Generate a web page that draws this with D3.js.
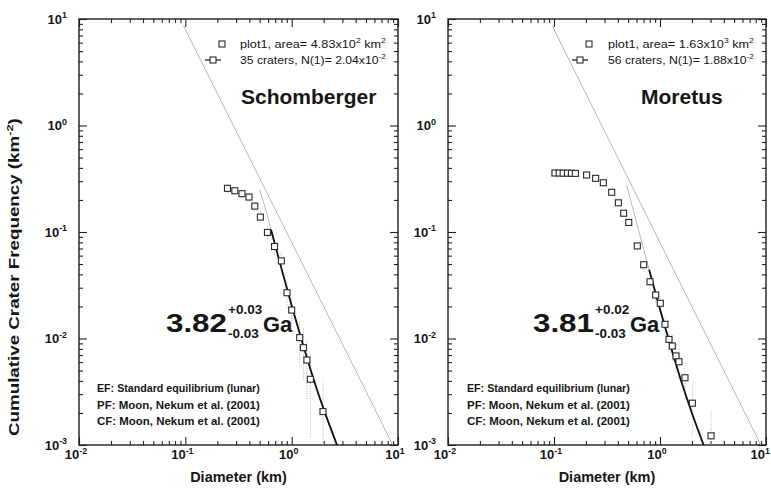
<!DOCTYPE html>
<html>
<head>
<meta charset="utf-8">
<script src="https://cdn.jsdelivr.net/npm/d3@7"></script>
<style>
  body { margin: 0; background: #fff; }
  svg { display: block; }
  text { font-family: "Liberation Sans", Arial, Helvetica, sans-serif; fill: #161616; }
</style>
</head>
<body>
<svg id="chart" width="771" height="493"></svg>
<script>
// ---- data ----
const xTickValues = [0.01, 0.1, 1, 10];
const xTickExp = ["-2", "-1", "0", "1"];
const yTickValues = [0.001, 0.01, 0.1, 1, 10];
const yTickExp = ["-3", "-2", "-1", "0", "1"];

// standard equilibrium line (same in both panels)
const equilibriumDiam = [0.096, 8.93];
const equilibriumFreq = [8.65, 0.001];

// Schomberger
const schombergerDiam = [0.249, 0.292, 0.341, 0.397, 0.45, 0.508, 0.592, 0.69, 0.80, 0.904, 1.0, 1.19, 1.29, 1.39, 1.50, 1.97];
const schombergerFreq = [0.257, 0.244, 0.229, 0.213, 0.175, 0.138, 0.099, 0.073, 0.0535, 0.0269, 0.0185, 0.0102, 0.0082, 0.00628, 0.00414, 0.00206];
const schombergerErrLo = [0.234, 0.2215, 0.207, 0.192, 0.156, 0.121, 0.085, 0.061, 0.043, 0.0194, 0.0123, 0.0056, 0.0041, 0.0027, 0.0012, 0.001];
const schombergerErrHi = [0.280, 0.2665, 0.251, 0.234, 0.194, 0.155, 0.113, 0.085, 0.064, 0.0344, 0.0247, 0.0148, 0.0123, 0.0099, 0.0071, 0.0041];
const schombergerFitDiam = [0.64, 0.8, 0.9, 1.0, 1.25, 1.5, 1.75, 2.0, 2.67];
const schombergerFitFreq = [0.105, 0.0458, 0.0298, 0.0204, 0.0094, 0.00516, 0.0032, 0.00217, 0.001];
const schombergerPfDiam = [0.5, 0.56, 0.64, 0.8, 1.0, 1.5, 2.0, 2.67];
const schombergerPfFreq = [0.249, 0.173, 0.105, 0.0458, 0.0204, 0.00516, 0.00217, 0.001];

// Moretus
const moretusDiam = [0.102, 0.112, 0.122, 0.134, 0.146, 0.159, 0.203, 0.247, 0.292, 0.350, 0.405, 0.454, 0.507, 0.611, 0.702, 0.805, 0.910, 1.007, 1.114, 1.216, 1.306, 1.416, 1.51, 1.72, 2.02, 3.03];
const moretusFreq = [0.358, 0.358, 0.357, 0.357, 0.356, 0.355, 0.343, 0.319, 0.290, 0.236, 0.188, 0.150, 0.123, 0.074, 0.0493, 0.0341, 0.0256, 0.0214, 0.0136, 0.0098, 0.0085, 0.00686, 0.00605, 0.00428, 0.00247, 0.00122];
const moretusErrLo = [0.343, 0.343, 0.342, 0.342, 0.341, 0.340, 0.329, 0.305, 0.277, 0.224, 0.177, 0.140, 0.114, 0.067, 0.0438, 0.0295, 0.0216, 0.0178, 0.0107, 0.0074, 0.0062, 0.0048, 0.0041, 0.0027, 0.00124, 0.0004];
const moretusErrHi = [0.373, 0.373, 0.372, 0.372, 0.371, 0.370, 0.357, 0.333, 0.303, 0.248, 0.199, 0.160, 0.132, 0.081, 0.0548, 0.0387, 0.0296, 0.0250, 0.0165, 0.0122, 0.0108, 0.0089, 0.0080, 0.0059, 0.0037, 0.0021];
const moretusFitDiam = [0.79, 0.9, 1.0, 1.25, 1.5, 1.75, 2.0, 2.58];
const moretusFitFreq = [0.0442, 0.02746, 0.0188, 0.00867, 0.00475, 0.00295, 0.0020, 0.001];
const moretusPfDiam = [0.485, 0.56, 0.63, 0.79, 1.0, 1.5, 2.0, 2.58];
const moretusPfFreq = [0.273, 0.160, 0.1026, 0.0442, 0.0188, 0.00475, 0.0020, 0.001];

const notes = ["EF: Standard equilibrium (lunar)", "PF: Moon, Nekum et al. (2001)", "CF: Moon, Nekum et al. (2001)"];

const svg = d3.select("#chart");
const width = +svg.attr("width");
const plotTop = 19, plotBottom = 445;

function zip(a, b) { return a.map((v, i) => [v, b[i]]); }

// text with superscript parts: [["10"], ["2", "sup"]]
function rich(text, parts, size) {
  let shift = 0;
  parts.forEach(([str, kind]) => {
    const target = kind === "sup" ? -size * 0.42 : 0;
    text.append("tspan")
      .attr("dy", target - shift)
      .attr("font-size", kind === "sup" ? size * 0.68 : size)
      .text(str);
    shift = target;
  });
  return text;
}

// put a text in a group and stretch it horizontally to the width seen in the figure
function stretched(parent, x, y, w, build, extra = "") {
  const g = parent.append("g");
  const t = g.append("text").attr("x", 0).attr("y", 0);
  build(t);
  const natural = t.node().getComputedTextLength();
  g.attr("transform", `translate(${x},${y}) ${extra} scale(${w / natural},1)`);
  return t;
}

function drawPanel(p) {
  const x = d3.scaleLog().domain([1e-2, 1e1]).range([p.left, p.right]);
  const y = d3.scaleLog().domain([1e-3, 1e1]).range([plotBottom, plotTop]);
  const g = svg.append("g");

  const clipId = "clip" + p.id;
  svg.append("clipPath").attr("id", clipId)
    .append("rect").attr("x", p.left).attr("y", plotTop)
    .attr("width", p.right - p.left).attr("height", plotBottom - plotTop);

  const minorX = x.ticks().filter(v => !xTickValues.some(t => Math.abs(t - v) / v < 1e-6));
  const minorY = y.ticks().filter(v => !yTickValues.some(t => Math.abs(t - v) / v < 1e-6));

  const axes = [
    [d3.axisBottom(x), `translate(0,${plotBottom})`, xTickValues, minorX],
    [d3.axisTop(x), `translate(0,${plotTop})`, xTickValues, minorX],
    [d3.axisLeft(y), `translate(${p.left},0)`, yTickValues, minorY],
    [d3.axisRight(y), `translate(${p.right},0)`, yTickValues, minorY]
  ];
  axes.forEach(([axis, tr, major, minor]) => {
    [[major, -8], [minor, -4]].forEach(([vals, len]) => {
      g.append("g").attr("transform", tr)
        .call(axis.tickValues(vals).tickSize(len).tickSizeOuter(0).tickFormat(""))
        .call(a => a.select(".domain").remove())
        .selectAll("line").attr("stroke", "#222").attr("stroke-width", 1.1);
    });
  });

  g.append("rect")
    .attr("x", p.left).attr("y", plotTop)
    .attr("width", p.right - p.left).attr("height", plotBottom - plotTop)
    .attr("fill", "none").attr("stroke", "#1e1e1e").attr("stroke-width", 1.4);

  // tick labels
  xTickValues.forEach((v, i) => {
    const t = rich(g.append("text").attr("x", x(v) - 3).attr("y", 459)
      .attr("text-anchor", "middle").attr("font-weight", "bold"),
      [["10"], [xTickExp[i], "sup"]], 13);
    const b = t.node().getBBox();
    if (b.x + b.width > width - 1) t.attr("x", x(v) - 3 - (b.x + b.width - width + 1));
  });
  yTickValues.forEach((v, i) => {
    rich(g.append("text").attr("x", p.left - 12).attr("y", y(v) + 4.5)
      .attr("text-anchor", "end").attr("font-weight", "bold"),
      [["10"], [yTickExp[i], "sup"]], 13);
  });

  const plot = g.append("g").attr("clip-path", `url(#${clipId})`);
  const line = d3.line().x(d => x(d[0])).y(d => y(d[1])).curve(d3.curveMonotoneX);

  // equilibrium line
  plot.append("path").datum(zip(equilibriumDiam, equilibriumFreq))
    .attr("d", line).attr("fill", "none").attr("stroke", "#a3a3a3").attr("stroke-width", 0.8);

  // production function (grey)
  plot.append("path").datum(zip(p.pfD, p.pfN))
    .attr("d", line).attr("fill", "none").attr("stroke", "#a8a8a8").attr("stroke-width", 0.8);

  // error bars
  plot.selectAll(".err").data(p.diam.map((d, i) => [d, p.lo[i], p.hi[i]]))
    .join("line").attr("class", "err")
    .attr("x1", d => x(d[0])).attr("x2", d => x(d[0]))
    .attr("y1", d => y(Math.max(d[1], 1e-3))).attr("y2", d => y(d[2]))
    .attr("stroke", "#b4b4b4").attr("stroke-width", 1).attr("stroke-dasharray", "1,1.5");

  // fit curve
  plot.append("path").datum(zip(p.fitD, p.fitN))
    .attr("d", line).attr("fill", "none").attr("stroke", "#111").attr("stroke-width", 1.8);

  // data squares
  plot.selectAll(".pt").data(zip(p.diam, p.freq))
    .join("rect").attr("class", "pt")
    .attr("x", d => x(d[0]) - 3).attr("y", d => y(d[1]) - 3)
    .attr("width", 6).attr("height", 6)
    .attr("fill", "#fff").attr("stroke", "#2a2a2a").attr("stroke-width", 1.1);

  // legend
  const lg = g.append("g");
  lg.append("rect").attr("x", p.legSq - 3).attr("y", 41).attr("width", 6).attr("height", 6)
    .attr("fill", "#fff").attr("stroke", "#2a2a2a").attr("stroke-width", 1.1);
  lg.append("line").attr("x1", p.legSq - 17).attr("x2", p.legSq - 1).attr("y1", 60).attr("y2", 60)
    .attr("stroke", "#222").attr("stroke-width", 1.3);
  lg.append("rect").attr("x", p.legSq - 12).attr("y", 57).attr("width", 6).attr("height", 6)
    .attr("fill", "#fff").attr("stroke", "#2a2a2a").attr("stroke-width", 1.1);
  stretched(lg, p.legText, 48, 146, t => rich(t, p.leg1, 11.5));
  stretched(lg, p.legText, 64, 146, t => rich(t, p.leg2, 11.5));

  // crater name
  g.append("text").attr("x", p.titleX).attr("y", 104)
    .attr("font-size", 21).attr("font-weight", "bold").text(p.name);

  // model age
  const ax = p.ageX;
  stretched(g, ax, 332, 61, t => t.attr("font-size", 26).attr("font-weight", "bold").text(p.age));
  g.append("text").attr("x", ax + 62).attr("y", 314).attr("font-size", 13.5)
    .attr("font-weight", "bold").text(p.agePlus);
  g.append("text").attr("x", ax + 62).attr("y", 338).attr("font-size", 13.5)
    .attr("font-weight", "bold").text(p.ageMinus);
  g.append("text").attr("x", ax + 97).attr("y", 332).attr("font-size", 22)
    .attr("font-weight", "bold").text("Ga");

  // notes
  notes.forEach((n, i) => {
    stretched(g, p.noteX, 392 + i * 16.5, 163, t => t.attr("font-size", 10)
      .attr("font-weight", "bold").attr("fill", "#222").text(n));
  });

  // x axis title
  g.append("text").attr("x", (p.left + p.right) / 2).attr("y", 482)
    .attr("text-anchor", "middle").attr("font-size", 14.5).attr("font-weight", "bold")
    .text("Diameter (km)");
}

drawPanel({
  id: "a", left: 79, right: 398, name: "Schomberger", titleX: 241,
  diam: schombergerDiam, freq: schombergerFreq, lo: schombergerErrLo, hi: schombergerErrHi,
  fitD: schombergerFitDiam, fitN: schombergerFitFreq, pfD: schombergerPfDiam, pfN: schombergerPfFreq,
  legSq: 222, legText: 240,
  leg1: [["plot1, area= 4.83x10"], ["2", "sup"], [" km"], ["2", "sup"]],
  leg2: [["35 craters, N(1)= 2.04x10"], ["-2", "sup"]],
  ageX: 166, age: "3.82", agePlus: "+0.03", ageMinus: "-0.03", noteX: 97
});

drawPanel({
  id: "b", left: 448, right: 766, name: "Moretus", titleX: 641,
  diam: moretusDiam, freq: moretusFreq, lo: moretusErrLo, hi: moretusErrHi,
  fitD: moretusFitDiam, fitN: moretusFitFreq, pfD: moretusPfDiam, pfN: moretusPfFreq,
  legSq: 589, legText: 608,
  leg1: [["plot1, area= 1.63x10"], ["3", "sup"], [" km"], ["2", "sup"]],
  leg2: [["56 craters, N(1)= 1.88x10"], ["-2", "sup"]],
  ageX: 533, age: "3.81", agePlus: "+0.02", ageMinus: "-0.03", noteX: 467
});

// shared y axis title
stretched(svg, 19, 277, 318, t => rich(t.attr("text-anchor", "start").attr("font-weight", "bold"),
  [["Cumulative Crater Frequency (km"], ["-2", "sup"], [")"]], 14), "rotate(-90) translate(-159,0)");
</script>
</body>
</html>
